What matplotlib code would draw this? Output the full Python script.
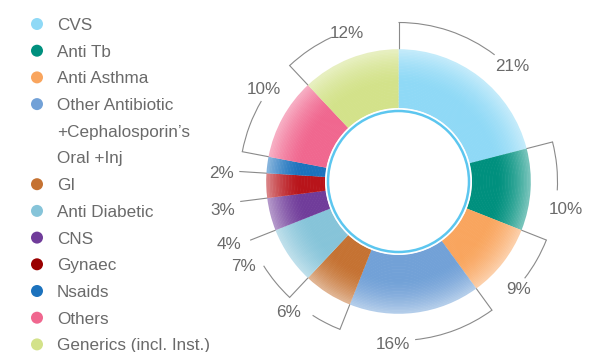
import numpy as np
import matplotlib
matplotlib.use("Agg")
import matplotlib.pyplot as plt
from matplotlib.patches import Wedge, Circle, Arc
from matplotlib.colors import to_rgb

categories = ["CVS", "Anti Tb", "Anti Asthma", "Other Antibiotic\n+Cephalosporin\u2019s\nOral +Inj",
              "GI", "Anti Diabetic", "CNS", "Gynaec", "Nsaids", "Others", "Generics (incl. Inst.)"]
values = [21, 10, 9, 16, 6, 7, 4, 3, 2, 10, 12]
colors = ["#8fd9f6", "#00907e", "#f9a55e", "#72a1d7", "#c57232", "#86c4d9",
          "#703c9a", "#b8141a", "#1c72bd", "#f0678f", "#d3e28a"]
legend_colors = ["#8fd9f6", "#00907e", "#f9a55e", "#72a1d7", "#c57232", "#86c4d9",
                 "#703c9a", "#9a0000", "#1c72bd", "#f0678f", "#d3e28a"]
labels = [f"{v}%" for v in values]

# layout (polar: angle in degrees, radius in px from centre); None = straight leader only
label_angle = [45.5, -9, -41.5, -92, -130.5, -151.5, -160, -171, 176.8, 145.4, 109]
label_radius = [163, 169, 161, 162, 170, 176, 180, 178, 177, 164, 158]
arc_end = [52.8, -3.2, -37.5, -84, -122.7, -148, None, None, None, 149.6, 115]

W, H = 589, 352
fig = plt.figure(figsize=(W / 100, H / 100), dpi=100)
ax = fig.add_axes([0, 0, 1, 1])
ax.set_xlim(0, W)
ax.set_ylim(0, H)
ax.axis("off")

FONT = ["Liberation Sans", "DejaVu Sans"]
TXT = "#6a6a6a"
LINE = "#8a8a8a"
YOFF = -1.5
FS = 12.3

cx, cy = 398.5, H - 181.5
R, Rin, R2 = 132, 73.5, 159

total = sum(values)
start = 90.0
nring = 40
edges = np.linspace(Rin, R, nring + 1)
for i, (v, c) in enumerate(zip(values, colors)):
    span = v / total * 360
    end = start - span
    base = np.array(to_rgb(c))
    for k in range(nring):
        r0, r1 = edges[k], edges[k + 1]
        rm = (r0 + r1) / 2
        t = max(0.0, (rm - 0.74 * R) / (0.26 * R))
        t = 0.48 * t ** 1.6
        col = base * (1 - t) + np.ones(3) * t
        ax.add_patch(Wedge((cx, cy), r1 + 0.3, end, start, width=r1 - r0 + 0.6,
                           facecolor=col, edgecolor="none", zorder=2))
    a0 = np.radians(start)
    ax.plot([cx + R * np.cos(a0), cx + R2 * np.cos(a0)],
            [cy + R * np.sin(a0), cy + R2 * np.sin(a0)], color=LINE, lw=0.8, zorder=1)
    if arc_end[i] is not None:
        t1, t2 = arc_end[i], start
        if t2 - t1 < 0:
            t2 += 360
        ax.add_patch(Arc((cx, cy), 2 * R2, 2 * R2, theta1=t1, theta2=t2,
                         color=LINE, lw=0.8, zorder=1))
    la, lr = np.radians(label_angle[i]), label_radius[i]
    ax.text(cx + lr * np.cos(la), cy + lr * np.sin(la) + YOFF, labels[i],
            ha="center", va="center", fontsize=FS, color=TXT, family=FONT)
    start = end

# inner ring
ax.add_patch(Circle((cx, cy), Rin, facecolor="white", edgecolor="none", zorder=3))
ax.add_patch(Circle((cx, cy), Rin - 3.0, facecolor="none", edgecolor="#5cc6ef", lw=1.8, zorder=4))

# legend
ly = 24.0
step = 26.7
for name, c in zip(categories, legend_colors):
    lines = name.split("\n")
    ax.add_patch(Circle((37, H - ly), 6, facecolor=c, edgecolor="none", zorder=5))
    for j, ln in enumerate(lines):
        ax.text(57, H - ly + YOFF, ln, ha="left", va="center", fontsize=FS, color=TXT, family=FONT)
        ly += step

fig.savefig("out.png", dpi=100)
